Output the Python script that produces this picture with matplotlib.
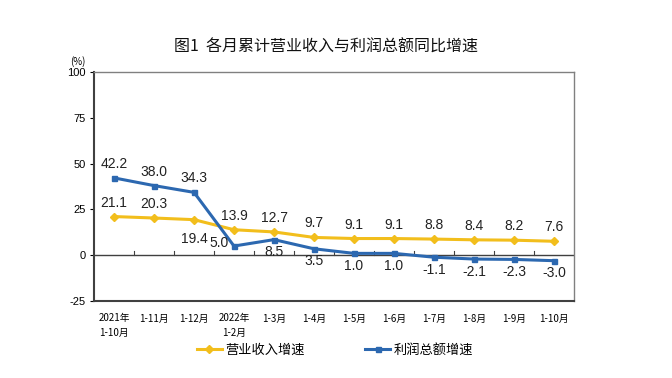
import matplotlib
matplotlib.use("Agg")
import matplotlib.pyplot as plt

plt.rcParams['font.family'] = ['Noto Sans CJK SC', 'DejaVu Sans']

categories = ["2021年\n1-10月", "1-11月", "1-12月", "2022年\n1-2月", "1-3月", "1-4月",
              "1-5月", "1-6月", "1-7月", "1-8月", "1-9月", "1-10月"]
revenue = [21.1, 20.3, 19.4, 13.9, 12.7, 9.7, 9.1, 9.1, 8.8, 8.4, 8.2, 7.6]
profit = [42.2, 38.0, 34.3, 5.0, 8.5, 3.5, 1.0, 1.0, -1.1, -2.1, -2.3, -3.0]
series_names = ["营业收入增速", "利润总额增速"]
yticks = [-25, 0, 25, 50, 75, 100]

YEL = "#F2BE1C"
BLU = "#2C68B0"

fig = plt.figure(figsize=(6.72, 3.78), dpi=100)
ax = fig.add_axes([94/672, 1 - 301/378, 480/672, 229/378])

x = list(range(len(categories)))
l1, = ax.plot(x, revenue, color=YEL, lw=2.2, marker='D', ms=3.6, mfc=YEL, mec=YEL, label=series_names[0])
l2, = ax.plot(x, profit, color=BLU, lw=2.2, marker='s', ms=3.6, mfc=BLU, mec=BLU, label=series_names[1])

ax.set_xlim(-0.5, len(categories) - 0.5)
ax.set_ylim(-25, 100)
ax.set_yticks(yticks)
ax.set_yticklabels([str(v) for v in yticks], fontsize=8, family=['Liberation Sans Narrow', 'Liberation Sans'])
ax.set_xticks(x)
ax.set_xticklabels(categories, fontsize=7, linespacing=1.5)
ax.tick_params(axis='x', length=0, pad=9)
ax.tick_params(axis='y', length=3, direction='out', width=0.8, pad=3)

# zero line with category boundary ticks
ax.axhline(0, color='#404040', lw=1.0, zorder=1)
for b in range(1, len(categories)):
    ax.plot([b - 0.5, b - 0.5], [0, 2.2], color='#404040', lw=0.8, zorder=1)

for s in ['left', 'bottom']:
    ax.spines[s].set_color('#404040')
    ax.spines[s].set_linewidth(1.5)
for s in ['top', 'right']:
    ax.spines[s].set_color('#808080')
    ax.spines[s].set_linewidth(1.0)

lab_font = dict(fontsize=10, family=['Liberation Sans', 'DejaVu Sans'], ha='center', color='#222222')
for i, v in enumerate(revenue):
    if i == 2:
        ax.annotate(f"{v:.1f}", (i, v), xytext=(0, -9), textcoords='offset points', va='top', **lab_font)
    else:
        ax.annotate(f"{v:.1f}", (i, v), xytext=(0, 5), textcoords='offset points', va='bottom', **lab_font)
for i, v in enumerate(profit):
    if i < 3:
        ax.annotate(f"{v:.1f}", (i, v), xytext=(0, 5), textcoords='offset points', va='bottom', **lab_font)
    elif i == 3:
        ax.annotate(f"{v:.1f}", (i, v), xytext=(-11, 2), textcoords='offset points', va='center', **lab_font)
    else:
        ax.annotate(f"{v:.1f}", (i, v), xytext=(0, -4), textcoords='offset points', va='top', **lab_font)

fig.text(326/672, 1 - 47/378, "图1  各月累计营业收入与利润总额同比增速", ha='center', va='center',
         fontsize=11.5, color='#111111')
fig.text(78/672, 1 - 62/378, "(%)", ha='center', va='center', fontsize=7)

fig.legend(handles=[l1, l2], loc='center', bbox_to_anchor=(335/672, 1 - 350/378), ncol=2,
           frameon=False, fontsize=9.5, handlelength=1.9, columnspacing=4.6, handletextpad=0.25)

fig.savefig("out.png", dpi=100, facecolor='white')
